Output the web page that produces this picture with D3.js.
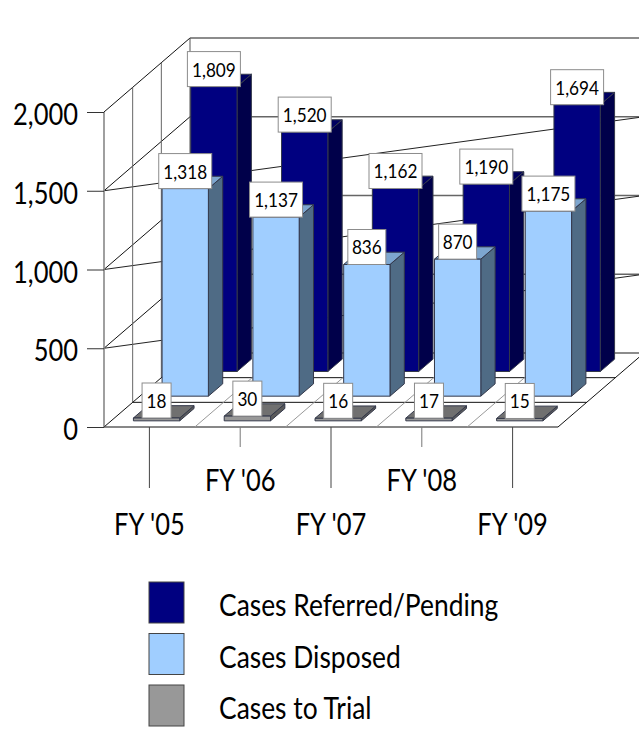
<!DOCTYPE html>
<html>
<head>
<meta charset="utf-8">
<script src="https://cdn.jsdelivr.net/npm/d3@7"></script>
<style>
  html, body { margin: 0; padding: 0; background: #fff; }
  svg { display: block; }
  text { font-family: Lato, "Open Sans", sans-serif; fill: #000; }
</style>
</head>
<body>
<svg id="chart" width="639" height="744"></svg>
<script>
// Values
const years = ["FY '05", "FY '06", "FY '07", "FY '08", "FY '09"];
const referred = [1809, 1520, 1162, 1190, 1694];
const disposed = [1318, 1137, 836, 870, 1175];
const trial = [18, 30, 16, 17, 15];
const yTicks = [0, 500, 1000, 1500, 2000];
const seriesNames = ["Cases Referred/Pending", "Cases Disposed", "Cases to Trial"];
const seriesFront = ["#000080", "#a0ceff", "#989898"];
const seriesSide = ["#00004a", "#4f6b85", "#5a5a5a"];
const seriesTop = ["#000060", "#7da6cf", "#707070"];

const svg = d3.select('#chart');

// Front plane scales
const x = d3.scaleBand().domain(years).range([104, 558]).paddingInner(0.49).paddingOuter(0.245);
const xCell = d3.scaleBand().domain(years).range([104, 558]);
const y = d3.scaleLinear().domain([0, 2000]).range([427, 112]);

// Depth goes 0 (front) to 1 (back wall)
const depthDx = 86;
const depthDy = -74;
const depth = d3.scaleBand().domain([2, 1, 0]).range([0, 1]).paddingInner(0.5).paddingOuter(0.25);

const px = (xv, d) => xv + d * depthDx;
const py = (v, d) => y(v) + d * depthDy;
const poly = pts => pts.map(p => p.join(',')).join(' ');
const line = (g, x1, y1, x2, y2, color, w) => g.append('line')
  .attr('x1', x1).attr('y1', y1).attr('x2', x2).attr('y2', y2)
  .attr('stroke', color).attr('stroke-width', w);

// Squeezed text, Lato is wider than the original face
function label(g, tx, ty, str, size, anchor, sx) {
  return g.append('text')
    .attr('transform', `translate(${tx},${ty}) scale(${sx},1)`)
    .attr('text-anchor', anchor)
    .style('font-size', size + 'px')
    .text(str);
}

// Walls and floor
const grid = svg.append('g').attr('fill', 'none');
const x0 = 104, x1 = 558;

yTicks.forEach(v => {
  // side wall and back wall
  line(grid, x0, y(v), px(x0, 1), py(v, 1), '#111', 1);
  line(grid, px(x0, 1), py(v, 1), px(x1, 1), py(v, 1), '#666', 1.4);
  // stray diagonals of the original plot
  if (v > 0 && v < 2000) line(grid, x0, y(v), px(x1, 1), py(v, 1), '#222', 1);
});
line(grid, x0, y(0), x0, y(2000), '#888', 1.6);
[1 / 3, 2 / 3].forEach(d => {
  line(grid, px(x0, d), py(0, d), px(x0, d), py(2000, d), '#666', 1);
  line(grid, px(x0, d), py(0, d), px(x1, d), py(0, d), '#111', 1);
});
line(grid, px(x0, 1), py(0, 1), px(x0, 1), py(2000, 1), '#555', 1);
line(grid, x0, y(0), x1, y(0), '#111', 1);
line(grid, x1, y(0), px(x1, 1), py(0, 1), '#111', 1);
years.forEach((yr, i) => {
  if (i > 0) line(grid, xCell(yr), y(0), px(xCell(yr), 1), py(0, 1), '#999', 1);
});

// Bars, back series first
const bars = svg.append('g').attr('stroke', '#33384a').attr('stroke-width', 1).attr('stroke-linejoin', 'round');
const labelBoxes = [];
[referred, disposed, trial].forEach((values, s) => {
  const d0 = depth(s);
  const d1 = d0 + depth.bandwidth();
  years.forEach((yr, i) => {
    const v = values[i];
    const l = x(yr), r = l + x.bandwidth();
    const g = bars.append('g');
    g.append('polygon').attr('fill', seriesSide[s])
      .attr('points', poly([[px(r, d0), py(0, d0)], [px(r, d1), py(0, d1)], [px(r, d1), py(v, d1)], [px(r, d0), py(v, d0)]]));
    g.append('polygon').attr('fill', seriesTop[s])
      .attr('points', poly([[px(l, d0), py(v, d0)], [px(r, d0), py(v, d0)], [px(r, d1), py(v, d1)], [px(l, d1), py(v, d1)]]));
    g.append('polygon').attr('fill', seriesFront[s])
      .attr('points', poly([[px(l, d0), py(0, d0)], [px(r, d0), py(0, d0)], [px(r, d0), py(v, d0)], [px(l, d0), py(v, d0)]]));
    labelBoxes.push({ v, cx: px(l + x.bandwidth() / 2, d0), bottom: py(v, d0) });
  });
});

// Axes
const yAxis = svg.append('g').attr('transform', `translate(${x0},0)`)
  .call(d3.axisLeft(y).tickValues(yTicks).tickSize(17).tickFormat(''));
yAxis.select('.domain').remove();
yAxis.selectAll('line').attr('stroke', '#333').attr('stroke-width', 1);
yTicks.forEach(v => label(svg, 78, y(v) + 13, d3.format(',')(v), 30, 'end', 0.85));

const xAxis = svg.append('g').attr('transform', `translate(0,${y(0)})`)
  .call(d3.axisBottom(xCell).tickSize(0).tickFormat(''));
xAxis.select('.domain').remove();
years.forEach((yr, i) => {
  const cx = xCell(yr) + xCell.bandwidth() / 2;
  line(svg, cx, y(0), cx, y(0) + (i % 2 ? 20 : 61), i % 2 ? '#777' : '#444', 1);
  label(svg, cx, i % 2 ? 491 : 535, yr, 30, 'middle', 0.85);
});

// Value labels on top of everything
const labels = svg.append('g');
labelBoxes.forEach(b => {
  const str = d3.format(',')(b.v);
  const w = str.length === 5 ? 53 : str.length === 3 ? 38 : 29;
  labels.append('rect')
    .attr('x', b.cx - w / 2).attr('y', b.bottom - 35)
    .attr('width', w).attr('height', 35)
    .attr('fill', '#fff').attr('stroke', '#8c8c8c').attr('stroke-width', 1);
  label(labels, b.cx, b.bottom - 10, str, 20, 'middle', 0.86);
});

// Legend
const legendY = d3.scaleBand().domain(seriesNames).range([581, 735.5]);
const legend = svg.append('g');
seriesNames.forEach((name, s) => {
  legend.append('rect')
    .attr('x', 149).attr('y', legendY(name) + 1)
    .attr('width', 35).attr('height', 41)
    .attr('fill', seriesFront[s]).attr('stroke', '#444').attr('stroke-width', 1);
  label(legend, 219, legendY(name) + 35, name, 30, 'start', 0.88);
});
</script>
</body>
</html>
